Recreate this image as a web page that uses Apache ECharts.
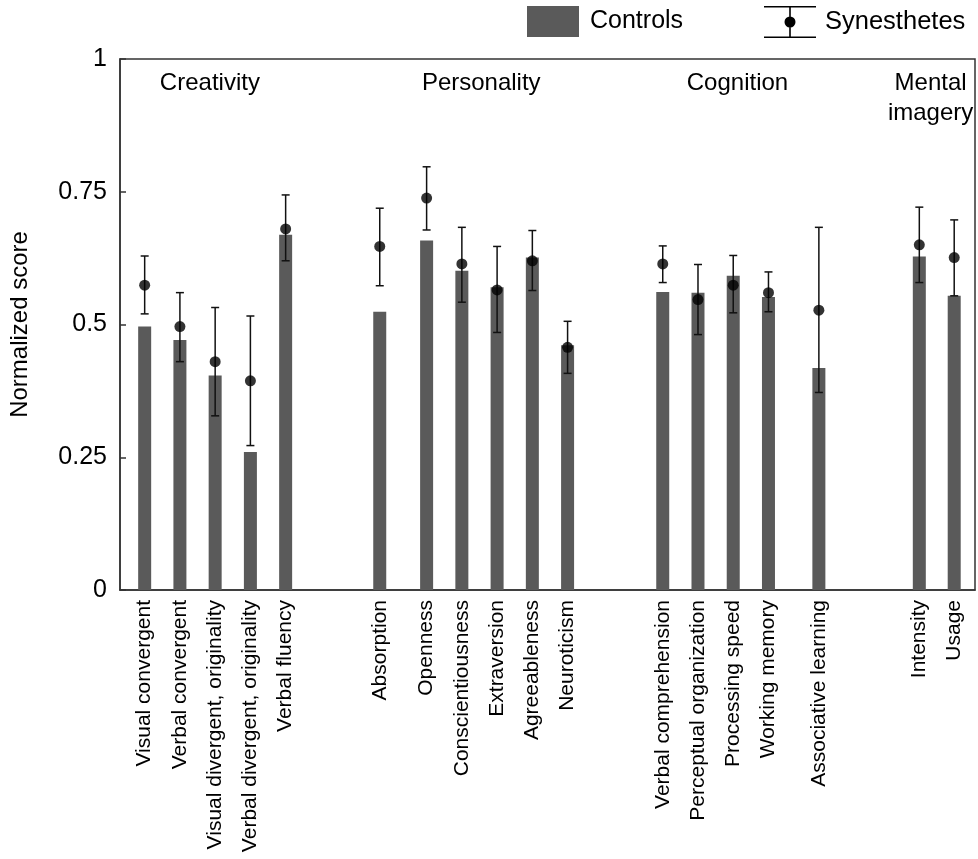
<!DOCTYPE html>
<html>
<head>
<meta charset="utf-8">
<script src="https://cdn.jsdelivr.net/npm/echarts@6/dist/echarts.min.js"></script>
<style>html,body{margin:0;padding:0;background:#fff;}#chart{width:978px;height:859px;}</style>
</head>
<body>
<div id="chart"></div>
<script>
// ---- data ----
var categories = ['Visual convergent','Verbal convergent','Visual divergent, originality','Verbal divergent, originality','Verbal fluency',
  'Absorption','Openness','Conscientiousness','Extraversion','Agreeableness','Neuroticism',
  'Verbal comprehension','Perceptual organization','Processing speed','Working memory','Associative learning',
  'Intensity','Usage'];
var xPos = [1,2,3,4,5, 7.67,9,10,11,12,13, 15.7,16.7,17.7,18.7,20.13, 22.98,23.97];
var controls = [0.496,0.471,0.404,0.260,0.669, 0.524,0.658,0.601,0.570,0.626,0.461, 0.561,0.560,0.592,0.552,0.418, 0.628,0.554];
var synMean  = [0.574,0.496,0.430,0.394,0.680, 0.647,0.738,0.614,0.565,0.620,0.457, 0.614,0.547,0.574,0.560,0.527, 0.650,0.626];
var synLow   = [0.520,0.430,0.328,0.272,0.620, 0.573,0.678,0.542,0.485,0.564,0.408, 0.579,0.481,0.522,0.524,0.372, 0.579,0.554];
var synHigh  = [0.629,0.560,0.532,0.516,0.744, 0.719,0.797,0.683,0.647,0.677,0.506, 0.648,0.613,0.630,0.599,0.683, 0.721,0.697];
var groupNames = ['Creativity','Personality','Cognition','Mental\nimagery'];
var groupCenters = [2.85,10.55,17.82,23.3];
var yTicks = [0,0.25,0.5,0.75,1];

var FONT = 'Liberation Sans, Arial, Helvetica, sans-serif';
var TXT = '#000';

var chart = echarts.init(document.getElementById('chart'));

var barData = xPos.map(function(x,i){ return [x, controls[i]]; });
var dotData = xPos.map(function(x,i){ return [x, synMean[i]]; });
var errData = xPos.map(function(x,i){ return [x, synLow[i], synHigh[i]]; });

var synIcon = 'path://M0 0H52V1.6H0Z M0 30.4H52V32H0Z M25.2 0H26.8V11H25.2Z M25.2 21H26.8V32H25.2Z M20.5 16A5.5 5.5 0 1 1 31.5 16A5.5 5.5 0 1 1 20.5 16Z';

chart.setOption({
  animation: false,
  backgroundColor: '#fff',
  textStyle: { fontFamily: FONT, color: TXT },
  legend: [
    { left: 527, top: 6, padding: 0, itemWidth: 52, itemHeight: 31, itemGap: 0,
      textStyle: { fontSize: 25, color: TXT, fontFamily: FONT, padding: [2,0,0,6] },
      data: [{ name: 'Controls', icon: 'rect', itemStyle: { color: '#5a5a5a' } }], selectedMode: false },
    { left: 764, top: 6, padding: 0, itemWidth: 52, itemHeight: 32, itemGap: 0,
      textStyle: { fontSize: 25.5, color: TXT, fontFamily: FONT, padding: [2,0,0,4] },
      data: [{ name: 'Synesthetes', icon: synIcon, itemStyle: { color: '#000' } }], selectedMode: false }
  ],
  grid: { left: 118, right: 3, top: 59, bottom: 269, show: true, borderColor: '#333', borderWidth: 1.5, backgroundColor: 'transparent' },
  xAxis: {
    type: 'value', min: 0.3, max: 24.56,
    splitLine: { show: false },
    axisLine: { show: true, lineStyle: { color: '#333', width: 1.5 } },
    axisTick: { show: false },
    axisLabel: {
      show: true, rotate: 90, margin: 10, fontSize: 21, color: TXT, fontFamily: FONT,
      customValues: xPos,
      formatter: function(v){ var i = xPos.indexOf(v); return i >= 0 ? categories[i] : ''; }
    }
  },
  yAxis: {
    type: 'value', min: 0, max: 1, interval: 0.25,
    name: 'Normalized score', nameLocation: 'middle', nameRotate: 90, nameGap: 88,
    nameTextStyle: { fontSize: 24, color: TXT, fontFamily: FONT },
    splitLine: { show: false },
    axisLine: { show: true, lineStyle: { color: '#333', width: 1.5 } },
    axisTick: { show: true, inside: true, length: 6, lineStyle: { color: '#333', width: 1.5 } },
    axisLabel: { fontSize: 25, color: TXT, fontFamily: FONT, margin: 13,
      formatter: function(v){ var i = yTicks.indexOf(v); return i >= 0 ? String(yTicks[i]) : ''; } }
  },
  series: [
    { name: 'Controls', type: 'bar', data: barData, barWidth: 13,
      itemStyle: { color: '#5a5a5a' }, z: 2 },
    { name: 'Synesthetes', type: 'custom', data: errData, z: 3,
      itemStyle: { color: '#000' },
      encode: { x: 0, y: [1,2] },
      renderItem: function(params, api){
        var x = api.value(0);
        var lo = api.coord([x, api.value(1)]);
        var hi = api.coord([x, api.value(2)]);
        var hw = 4;
        var st = { stroke: '#111', lineWidth: 1.5 };
        return { type: 'group', children: [
          { type: 'line', shape: { x1: lo[0], y1: lo[1], x2: hi[0], y2: hi[1] }, style: st },
          { type: 'line', shape: { x1: lo[0]-hw, y1: lo[1], x2: lo[0]+hw, y2: lo[1] }, style: st },
          { type: 'line', shape: { x1: hi[0]-hw, y1: hi[1], x2: hi[0]+hw, y2: hi[1] }, style: st }
        ]};
      }
    },
    { name: 'Synesthetes', type: 'scatter', data: dotData, symbol: 'circle', symbolSize: 11,
      itemStyle: { color: '#000' }, z: 4 }
  ]
});

// group labels placed through the x scale
var gfx = groupNames.map(function(name, i){
  var px = chart.convertToPixel({ xAxisIndex: 0 }, groupCenters[i]);
  return { type: 'text', x: px, y: 68, style: { text: name, fontSize: 24, fontFamily: FONT, fill: TXT,
    align: 'center', verticalAlign: 'top', lineHeight: 30 } };
});
chart.setOption({ graphic: gfx });
</script>
</body>
</html>
